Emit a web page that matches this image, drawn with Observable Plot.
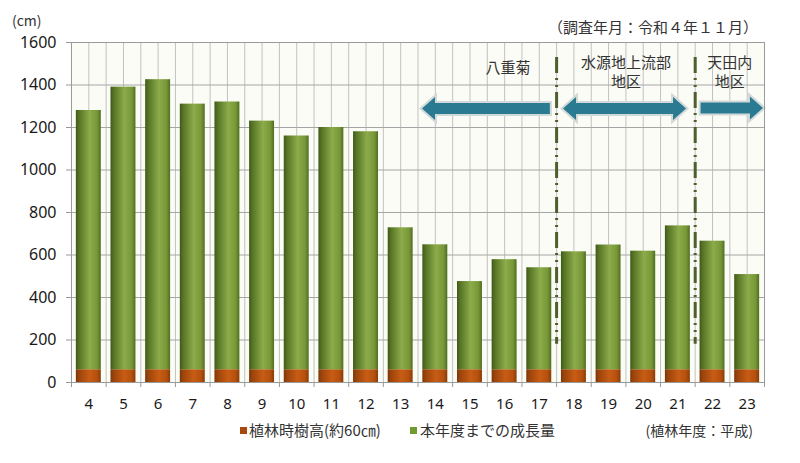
<!DOCTYPE html>
<html><head><meta charset="utf-8">
<script src="https://cdn.jsdelivr.net/npm/d3@7"></script>
<script src="https://cdn.jsdelivr.net/npm/@observablehq/plot@0.6"></script>
<style>
html,body{margin:0;padding:0;background:#fff;}
#wrap{position:relative;width:800px;height:463px;font-family:"Noto Sans CJK JP","Noto Sans",sans-serif;color:#333;}
#wrap svg{position:absolute;left:0;top:0;}
.t{position:absolute;white-space:nowrap;line-height:1;}
.sq{position:absolute;width:7px;height:7px;}
</style></head><body>
<div id="wrap">
  <div class="t" style="left:12px;top:13px;font-size:14px;font-family:'Noto Sans CJK JP';">(cm)</div>
  <div class="t" style="right:42px;top:19px;font-size:15px;">（調査年月：令和４年１１月）</div>
  <div class="sq" style="left:240px;top:427px;background:#a84a10;"></div>
  <div class="t" style="left:249px;top:422px;font-size:15px;">植林時樹高(約60㎝)</div>
  <div class="sq" style="left:410px;top:427px;background:#6e9a30;"></div>
  <div class="t" style="left:420px;top:422px;font-size:15px;">本年度までの成長量</div>
  <div class="t" style="right:47px;top:423px;font-size:14px;">(植林年度：平成)</div>
</div>
<script>
// Data
const years = [4,5,6,7,8,9,10,11,12,13,14,15,16,17,18,19,20,21,22,23];
const totals = [1280,1390,1425,1310,1320,1230,1160,1200,1180,728,648,475,578,540,615,647,618,737,665,508];
const plantingHeight = [60,60,60,60,60,60,60,60,60,60,60,60,60,60,60,60,60,60,60,60];
const yTicks = [0,200,400,600,800,1000,1200,1400,1600];

// Region annotations
const dividers = [17.5, 21.5];
const dividerTop = 1530, dividerBottom = 180;
const arrowStart = [13.63, 17.7, 21.67];
const arrowEnd = [17.32, 21.25, 23.47];
const arrowHeads = ["start", "both", "end"];
const arrowLevel = [1287, 1287, 1290];
const regionText = ["八重菊", "水源地上流部", "地区", "天田内", "地区"];
const regionTextX = [16.1, 19.5, 19.5, 22.5, 22.5];
const regionTextY = [1478, 1501, 1412, 1501, 1412];

const rows = years.map((yr, i) => ({year: yr, total: totals[i], base: plantingHeight[i]}));
const labels = regionText.map((t, i) => ({t, x: regionTextX[i], y: regionTextY[i]}));
const halfBar = 0.36;
const ns = "http://www.w3.org/2000/svg";

function defsMark() {
  const defs = document.createElementNS(ns, "defs");
  const mk = (id, stops) => {
    const g = document.createElementNS(ns, "linearGradient");
    g.setAttribute("id", id);
    g.setAttribute("x1", "0"); g.setAttribute("x2", "1"); g.setAttribute("y1", "0"); g.setAttribute("y2", "0");
    stops.forEach(([o, c]) => {
      const s = document.createElementNS(ns, "stop");
      s.setAttribute("offset", o); s.setAttribute("stop-color", c);
      g.appendChild(s);
    });
    defs.appendChild(g);
  };
  mk("gGreen", [[0, "#3e5818"], [0.12, "#557324"], [0.55, "#8cab4a"], [0.85, "#789838"], [1, "#506d22"]]);
  mk("gBrown", [[0, "#7e3405"], [0.12, "#9a440b"], [0.55, "#c85c14"], [0.85, "#b4500e"], [1, "#883b07"]]);
  return defs;
}

function arrowMark(index, scales) {
  const g = document.createElementNS(ns, "g");
  arrowStart.forEach((s, i) => {
    const xa = scales.x(s), xb = scales.x(arrowEnd[i]), yc = scales.y(arrowLevel[i]);
    const bh = 5.5, hh = 11.5, hl = 13;
    const left = arrowHeads[i] !== "end", right = arrowHeads[i] !== "start";
    const p = [];
    if (left) p.push([xa, yc], [xa + hl, yc - hh], [xa + hl, yc - bh]); else p.push([xa, yc - bh]);
    if (right) p.push([xb - hl, yc - bh], [xb - hl, yc - hh], [xb, yc], [xb - hl, yc + hh], [xb - hl, yc + bh]);
    else p.push([xb, yc - bh], [xb, yc + bh]);
    if (left) p.push([xa + hl, yc + bh], [xa + hl, yc + hh]); else p.push([xa, yc + bh]);
    const d = "M" + p.map(q => q.join(",")).join("L") + "Z";
    const sh = document.createElementNS(ns, "path");
    sh.setAttribute("d", d);
    sh.setAttribute("fill", "none");
    sh.setAttribute("stroke", "#d2d9d9");
    sh.setAttribute("stroke-width", "4");
    sh.setAttribute("stroke-linejoin", "miter");
    g.appendChild(sh);
    const a = document.createElementNS(ns, "path");
    a.setAttribute("d", d);
    a.setAttribute("fill", "#2a7b91");
    g.appendChild(a);
  });
  return g;
}

const chart = Plot.plot({
  width: 800, height: 463,
  marginLeft: 71, marginRight: 36, marginTop: 42, marginBottom: 81,
  style: {fontFamily: "'Noto Sans', sans-serif", fontSize: "15px", color: "#1a1a1a", background: "transparent"},
  x: {type: "linear", domain: [3.5, 23.5]},
  y: {domain: [0, 1600]},
  marks: [
    defsMark,
    Plot.frame({fill: "#fbfcf6", stroke: null}),
    Plot.ruleX(d3.range(3.5, 23.6, 0.5), {stroke: "#c2c2c2", strokeWidth: 1}),
    Plot.ruleY(yTicks, {stroke: "#a6a6a6"}),
    Plot.rect(rows, {x1: d => d.year - halfBar, x2: d => d.year + halfBar, y1: 0, y2: "base", fill: "url(#gBrown)"}),
    Plot.rect(rows, {x1: d => d.year - halfBar, x2: d => d.year + halfBar, y1: "base", y2: "total", fill: "url(#gGreen)"}),
    Plot.ruleX(dividers, {y1: dividerTop, y2: dividerBottom, stroke: "#4e5e2e", strokeWidth: 3, strokeDasharray: "16 5 2 5 2 5"}),
    arrowMark,
    Plot.text(labels, {x: "x", y: "y", text: "t", fontFamily: "'Noto Sans CJK JP'", fontSize: 15, fill: "#333"}),
    Plot.frame({stroke: "#9a9a9a"}),
    Plot.axisY({ticks: yTicks, tickFormat: d3.format("d"), tickSize: 5, tickPadding: 10, fontSize: 16, stroke: "#999", label: null}),
    Plot.axisX({ticks: years, tickFormat: d => String(d), tickSize: 0, tickPadding: 16, label: null}),
    Plot.axisX({ticks: d3.range(3.5, 23.6, 1), tickFormat: () => "", tickSize: 5, stroke: "#999", label: null})
  ]
});
document.getElementById("wrap").prepend(chart);
</script>
</body></html>
